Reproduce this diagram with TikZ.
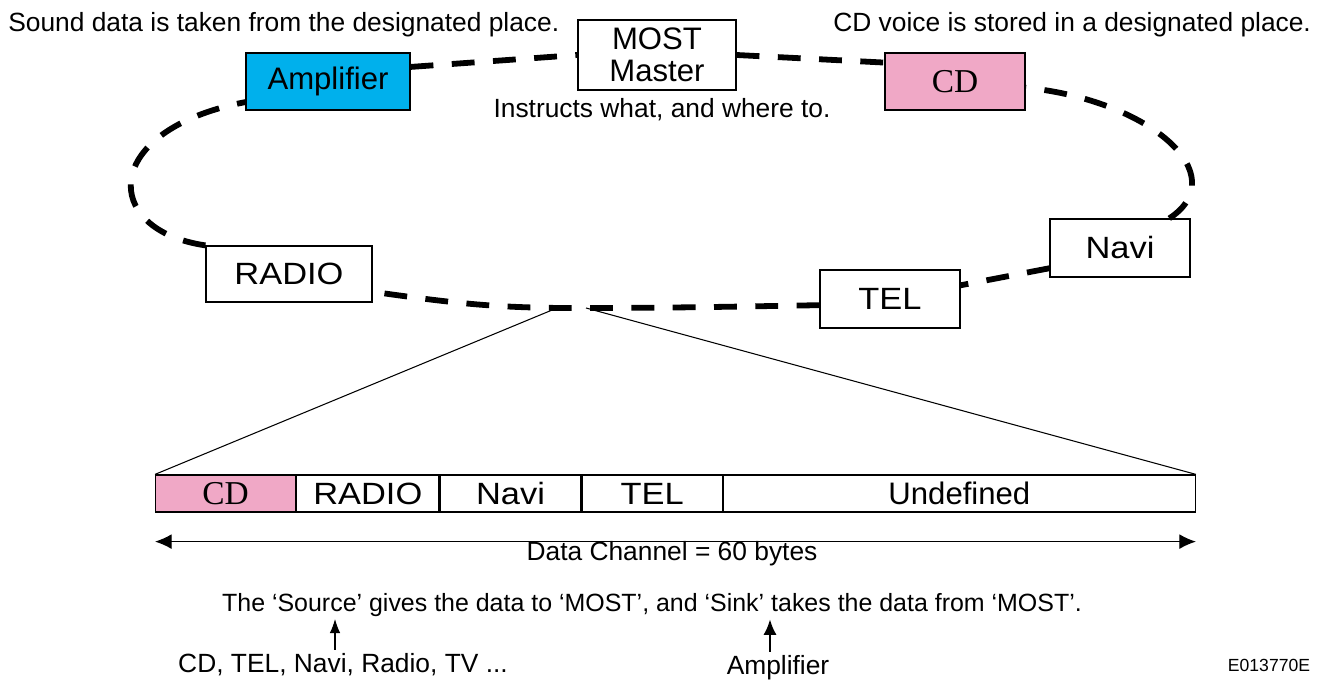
\documentclass[tikz,border=0pt]{standalone}
\usepackage{fontspec}
\setmainfont{Liberation Sans}
\newfontfamily\cdfont{Liberation Serif}
\newfontfamily\thinfont{Liberation Sans}[FakeStretch=1.12]
\usetikzlibrary{arrows.meta}

\definecolor{ampblue}{RGB}{0,176,236}
\definecolor{cdpink}{RGB}{240,168,198}

\tikzset{
	unit/.style={draw, line width=0.7pt, inner sep=0pt, minimum width=2.8cm, minimum height=1.16cm, font=\fontsize{17.7}{18}\selectfont},
	cell/.style={draw, line width=0.7pt, inner sep=0pt, anchor=west, minimum height=0.74cm, font=\fontsize{17.7}{18}\selectfont},
	ring/.style={line width=3.3pt, dash pattern=on 13pt off 10.5pt},
	note/.style={inner sep=0pt, font=\fontsize{15}{18}\selectfont}
}

\begin{document}
\begin{tikzpicture}[x=0.02cm, y=0.02cm]
		\useasboundingbox (0,0) rectangle (1335,-682);
		
		% Draw the units on the ring
		\node[unit, fill=ampblue, minimum width=3.28cm, minimum height=1.14cm] (amp) at (328,-81.5) {Amplifier};
		\node[unit, minimum width=3.16cm, minimum height=1.4cm, align=center] (master) at (657,-55) {MOST\\Master};
		\node[unit, fill=cdpink, minimum height=1.14cm] (cd) at (955,-81.5) {\cdfont\fontsize{19}{18}\selectfont CD};
		\node[unit, minimum width=3.32cm, minimum height=1.12cm] (radio) at (289,-274) {\thinfont\fontsize{17.5}{18}\selectfont RADIO};
		\node[unit] (tel) at (890,-299) {\thinfont\fontsize{17.5}{18}\selectfont TEL};
		\node[unit] (navi) at (1120,-248) {\thinfont\fontsize{17.5}{18}\selectfont Navi};
		
		% Notes
		\node[note, anchor=west] (soundTxt) at (8,-25) {Sound data is taken from the designated place.};
		\node[note, anchor=west] (cdTxt) at (833,-25) {CD voice is stored in a designated place.};
		\node[note] (masterTxt) at (662,-110) {Instructs what, and where to.};
		
		% Draw the ring
		\coordinate (tap) at (571,-308);
		\draw[ring] (amp.10) -- (master.west);
		\draw[ring] (master.east) -- (cd.165);
		\draw[ring] (navi.31) .. controls (1235,-175) and (1150,-100) .. (cd.-5);
		\draw[ring] (navi.196) -- (tel.11);
		\draw[ring] (tel.185) to[out=181,in=0] (tap) to[out=180,in=-8] (radio.-12);
		\draw[ring] (radio.north west) .. controls (100,-230) and (100,-130) .. (amp.194);
		
		% Draw the data channel
		\node[cell, fill=cdpink, minimum width=2.8cm] (bCD) at (155,-493.5) {\cdfont\fontsize{19}{18}\selectfont CD};
		\node[cell, minimum width=2.84cm] (bRadio) at (bCD.east) {\thinfont\fontsize{17.5}{18}\selectfont RADIO};
		\node[cell, minimum width=2.82cm] (bNavi) at (bRadio.east) {\thinfont\fontsize{17.5}{18}\selectfont Navi};
		\node[cell, minimum width=2.8cm] (bTel) at (bNavi.east) {\thinfont\fontsize{17.5}{18}\selectfont TEL};
		\node[cell, minimum width=9.44cm] (bUndef) at (bTel.east) {Undefined};
		
		\draw[line width=0.6pt] ([xshift=-14*0.02cm]tap) -- (bCD.north west);
		\draw[line width=0.6pt] ([xshift=15*0.02cm]tap) -- (bUndef.north east);
		
		\draw[line width=0.7pt, {Latex[length=9.5pt,width=8.5pt]}-{Latex[length=9.5pt,width=8.5pt]}] ([yshift=-0.58cm]bCD.south west) -- ([yshift=-0.58cm]bUndef.south east);
		\node[note] (chanTxt) at (672,-554) {Data Channel = 60 bytes};
		
		% Source and sink
		\node[note, font=\fontsize{14.2}{18}\selectfont] (sentence) at (652,-605) {The ‘Source’ gives the data to ‘MOST’, and ‘Sink’ takes the data from ‘MOST’.};
		\node[note] (sources) at (343,-665) {CD, TEL, Navi, Radio, TV ...};
		\node[note] (sinkTxt) at (778,-668) {Amplifier};
		\coordinate (srcTip) at (335,-619);
		\coordinate (sinkTip) at (770,-619);
		\draw[line width=0.6pt, -{Latex[length=8pt,width=6pt]}] ([yshift=2pt]sources.north -| srcTip) -- (srcTip);
		\draw[line width=1.6pt, -{Latex[length=9pt,width=7.5pt]}] ([yshift=2pt]sinkTxt.north -| sinkTip) -- (sinkTip);
		
		\node[inner sep=0pt, font=\fontsize{10}{12}\selectfont] (code) at (1269,-665) {E013770E};
	\end{tikzpicture}
\end{document}
